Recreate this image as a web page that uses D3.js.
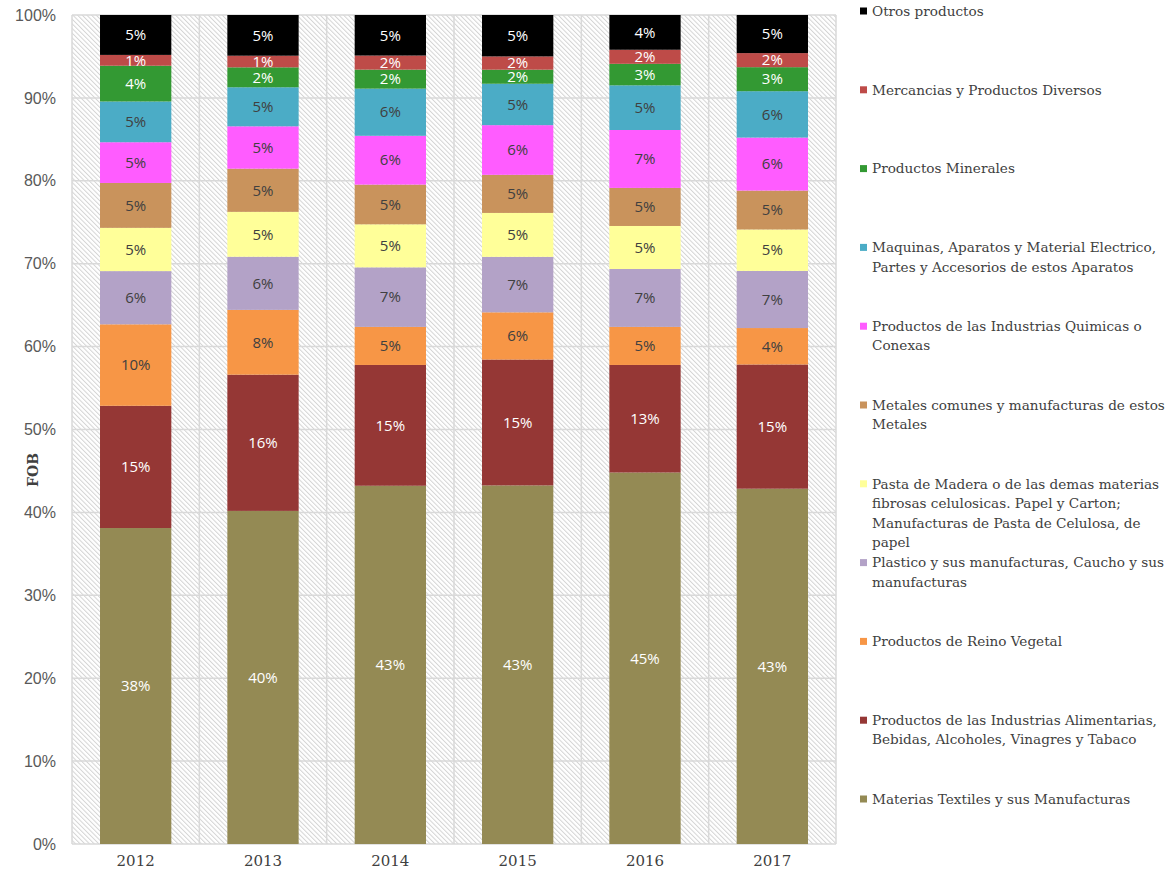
<!DOCTYPE html>
<html>
<head>
<meta charset="utf-8">
<script src="https://cdn.jsdelivr.net/npm/d3@7"></script>
<style>
    body { margin: 0; background: #fff; }
    svg { display: block; }
</style>
</head>
<body>
<div id="content"></div>
<script>
// años y series (de abajo hacia arriba), valores en % FOB
const years = ["2012", "2013", "2014", "2015", "2016", "2017"];

const seriesNames = [
    "Materias Textiles y sus Manufacturas",
    "Productos de las Industrias Alimentarias,\nBebidas, Alcoholes, Vinagres y Tabaco",
    "Productos de Reino Vegetal",
    "Plastico y sus manufacturas, Caucho y sus\nmanufacturas",
    "Pasta de Madera o de las demas materias\nfibrosas celulosicas. Papel y Carton;\nManufacturas de Pasta de Celulosa, de\npapel",
    "Metales comunes y manufacturas de estos\nMetales",
    "Productos de las Industrias Quimicas o\nConexas",
    "Maquinas, Aparatos y Material Electrico,\nPartes y Accesorios de estos Aparatos",
    "Productos Minerales",
    "Mercancias y Productos Diversos",
    "Otros productos"
];

const textiles    = [38.0, 40.1, 43.3, 43.3, 44.9, 42.9];
const alimentos   = [14.7, 16.4, 14.6, 15.2, 13.0, 15.0];
const vegetal     = [9.8, 7.8, 4.6, 5.7, 4.6, 4.4];
const plastico    = [6.4, 6.4, 7.2, 6.7, 7.0, 6.9];
const pasta       = [5.2, 5.4, 5.2, 5.3, 5.2, 5.0];
const metales     = [5.4, 5.2, 4.8, 4.6, 4.6, 4.7];
const quimicos    = [4.9, 5.1, 5.9, 6.0, 7.0, 6.4];
const maquinas    = [4.9, 4.7, 5.7, 5.0, 5.4, 5.6];
const minerales   = [4.3, 2.4, 2.3, 1.7, 2.6, 2.9];
const mercancias  = [1.3, 1.4, 1.7, 1.6, 1.7, 1.7];
const otros       = [4.8, 4.9, 4.9, 5.0, 4.2, 4.6];

const seriesValues = [textiles, alimentos, vegetal, plastico, pasta, metales,
    quimicos, maquinas, minerales, mercancias, otros];

const colors = ["#948a54", "#953735", "#f79646", "#b3a2c7", "#ffff99", "#c9935c",
    "#ff5cff", "#4bacc6", "#339933", "#be4b48", "#000000"];

// etiquetas blancas sobre los colores oscuros
const lightLabel = [true, true, false, false, false, false, false, false, true, true, true];

const yTicks = [0, 0.1, 0.2, 0.3, 0.4, 0.5, 0.6, 0.7, 0.8, 0.9, 1];

const margin = {top: 15, right: 334, bottom: 32, left: 72},
    width = 1170 - margin.left - margin.right,
    height = 876 - margin.top - margin.bottom;

const svg = d3.select("#content")
    .append("svg")
    .attr("width", 1170)
    .attr("height", 876);

// fondo rayado del área de trazado
const defs = svg.append("defs");
defs.append("pattern")
    .attr("id", "hatch")
    .attr("patternUnits", "userSpaceOnUse")
    .attr("width", 3.3)
    .attr("height", 10)
    .attr("patternTransform", "rotate(-45)")
    .append("line")
    .attr("x1", 0.5).attr("x2", 0.5)
    .attr("y1", 0).attr("y2", 10)
    .style("stroke", "#d3d3d3")
    .style("stroke-width", 1);

const g = svg.append("g")
    .attr("transform", "translate(" + margin.left + "," + margin.top + ")");

// tabla para d3.stack
const table = years.map((y, i) => {
    let row = {year: y};
    seriesValues.forEach((s, k) => { row[k] = s[i]; });
    return row;
});

const stack = d3.stack()
    .keys(d3.range(seriesValues.length))
    .offset(d3.stackOffsetExpand);
const stacked = stack(table);

let x = d3.scaleBand()
    .domain(years)
    .range([0, width])
    .paddingInner(0.44)
    .paddingOuter(0.22);

let y = d3.scaleLinear()
    .domain([0, 1])
    .range([height, 0]);

g.append("rect")
    .attr("width", width)
    .attr("height", height)
    .style("fill", "url(#hatch)");

// rejilla horizontal
g.append("g")
    .selectAll("line")
    .data(yTicks)
    .join("line")
    .attr("x1", 0).attr("x2", width)
    .attr("y1", d => y(d)).attr("y2", d => y(d))
    .style("stroke", "#d9d9d9")
    .style("stroke-width", 1.5);

// rejilla vertical entre categorías
const step = x.step();
g.append("g")
    .selectAll("line")
    .data(d3.range(years.length + 1))
    .join("line")
    .attr("x1", d => d * step).attr("x2", d => d * step)
    .attr("y1", 0).attr("y2", height)
    .style("stroke", "#d9d9d9")
    .style("stroke-width", 1.5);

// barras
const layers = g.append("g")
    .selectAll("g")
    .data(stacked)
    .join("g")
    .style("fill", (d, i) => colors[i]);

layers.selectAll("rect")
    .data(d => d)
    .join("rect")
    .attr("x", d => x(d.data.year))
    .attr("width", x.bandwidth())
    .attr("y", d => y(d[1]))
    .attr("height", d => y(d[0]) - y(d[1]));

// etiquetas de datos
stacked.forEach((layer, k) => {
    g.append("g")
        .selectAll("text")
        .data(layer)
        .join("text")
        .attr("x", d => x(d.data.year) + x.bandwidth() / 2)
        .attr("y", d => y((d[0] + d[1]) / 2))
        .attr("dy", "0.35em")
        .attr("text-anchor", "middle")
        .style("font-family", "'Open Sans', sans-serif")
        .style("font-size", "15px")
        .style("fill", lightLabel[k] ? "#ffffff" : "#404040")
        .text(d => Math.round((d[1] - d[0]) * 100) + "%");
});

// eje Y
let yAxis = d3.axisLeft(y)
    .tickValues(yTicks)
    .tickSize(0)
    .tickPadding(16)
    .tickFormat(d3.format(".0%"));

g.append("g")
    .call(yAxis)
    .call(a => a.select(".domain").remove())
    .selectAll("text")
    .style("font-family", "'Liberation Sans', sans-serif")
    .style("font-size", "16px")
    .style("fill", "#595959");

// eje X
let xAxis = d3.axisBottom(x)
    .tickSize(0)
    .tickPadding(11);

g.append("g")
    .attr("transform", "translate(0," + height + ")")
    .call(xAxis)
    .call(a => a.select(".domain").remove())
    .selectAll("text")
    .style("font-family", "'DejaVu Serif', serif")
    .style("font-size", "15px")
    .style("fill", "#404040");

// título del eje
svg.append("text")
    .attr("transform", "translate(38,470) rotate(-90)")
    .attr("text-anchor", "middle")
    .style("font-family", "'DejaVu Serif', serif")
    .style("font-weight", "bold")
    .style("font-size", "14px")
    .style("fill", "#404040")
    .text("FOB");

// leyenda (de arriba hacia abajo)
const legendTop = 11, legendStep = 78.8, lineH = 19.5;
const legend = svg.append("g")
    .attr("transform", "translate(860,0)");

const order = d3.range(seriesNames.length).reverse();
order.forEach((k, j) => {
    let item = legend.append("g")
        .attr("transform", "translate(0," + (legendTop + j * legendStep) + ")");
    item.append("rect")
        .attr("x", 0).attr("y", -3.5)
        .attr("width", 7).attr("height", 7)
        .style("fill", colors[k]);
    let text = item.append("text")
        .attr("x", 12)
        .attr("y", 0)
        .style("font-family", "'DejaVu Serif', serif")
        .style("font-size", "13.6px")
        .style("fill", "#404040");
    seriesNames[k].split("\n").forEach((line, li) => {
        text.append("tspan")
            .attr("x", 12)
            .attr("y", li * lineH)
            .attr("dy", "0.35em")
            .text(line);
    });
});
</script>
</body>
</html>
